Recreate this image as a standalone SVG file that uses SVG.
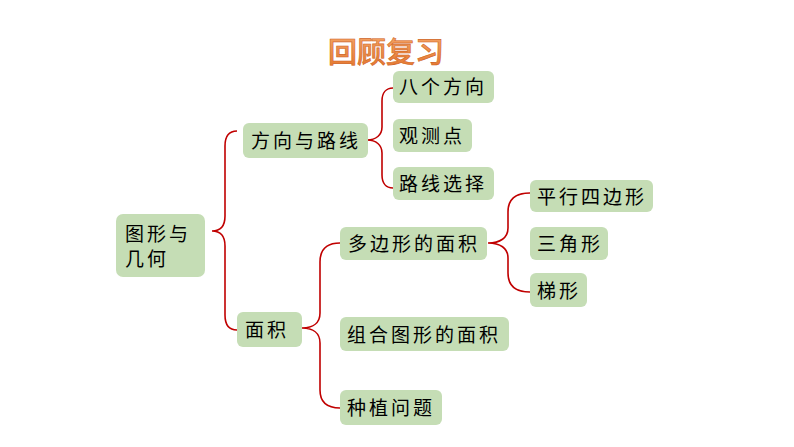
<svg xmlns="http://www.w3.org/2000/svg" width="794" height="447" viewBox="0 0 794 447">
<defs>
<style>
.box{fill:#c5ddb5;}
.t{font-family:"Noto Sans CJK SC","Noto Sans CJK JP",sans-serif;font-size:19px;fill:#000;letter-spacing:3px;}
.br{fill:none;stroke:#c00000;stroke-width:1.6;}
.title{font-family:"Noto Sans CJK SC","Noto Sans CJK JP",sans-serif;font-size:29px;font-weight:500;}
</style>
<linearGradient id="tg" x1="0" y1="0" x2="0" y2="1">
<stop offset="0" stop-color="#f7ac70"/>
<stop offset="1" stop-color="#e2732a"/>
</linearGradient>
</defs>
<rect width="794" height="447" fill="#fff"/>
<g id="title">
<text class="title" x="386" y="63" text-anchor="middle" fill="url(#tg)" stroke="#d0631e" stroke-width="0.6">回顾复习</text>
</g>
<g id="connectors">
<path class="br" d="M237,131 C229,131 225,136 225,146 L225,216 C225,226 220,231 212,231 C220,231 225,236 225,246 L225,315 C225,325 229,330 237,330"/>
<path class="br" d="M393,88 C386,88 382,93 382,101 L382,127 C382,135 376,140 367,140 C376,140 382,145 382,153 L382,175 C382,183 386,188 393,188"/>
<path class="br" d="M530,193 C514,193 508,200 508,212 L508,228 C508,238 500,243 488,243 C500,243 508,248 508,258 L508,273 C508,285 514,292 530,292"/>
<path class="br" d="M340,243 C326,243 320,250 320,262 L320,313 C320,323 313,328 302,328 C313,328 320,333 320,343 L320,390 C320,402 326,408 340,408"/>
</g>
<g id="n-root"><rect class="box" x="116" y="214" width="89" height="63" rx="7"/><text class="t" x="125" y="241">图形与</text><text class="t" x="125" y="266">几何</text></g>
<g id="n-fxlx"><rect class="box" x="243" y="123" width="125" height="35" rx="6"/><text class="t" x="251" y="148">方向与路线</text></g>
<g id="n-bgfx"><rect class="box" x="393" y="71" width="101" height="32" rx="6"/><text class="t" x="399" y="94">八个方向</text></g>
<g id="n-gcd"><rect class="box" x="393" y="119" width="79" height="33" rx="6"/><text class="t" x="399" y="143">观测点</text></g>
<g id="n-lxxz"><rect class="box" x="393" y="167" width="101" height="33" rx="6"/><text class="t" x="399" y="191">路线选择</text></g>
<g id="n-pxsbx"><rect class="box" x="530" y="180" width="123" height="32" rx="6"/><text class="t" x="537" y="204">平行四边形</text></g>
<g id="n-sjx"><rect class="box" x="530" y="227" width="78" height="33" rx="6"/><text class="t" x="537" y="251">三角形</text></g>
<g id="n-tx"><rect class="box" x="530" y="273" width="57" height="34" rx="6"/><text class="t" x="537" y="298">梯形</text></g>
<g id="n-dbx"><rect class="box" x="340" y="227" width="147" height="33" rx="6"/><text class="t" x="348" y="251">多边形的面积</text></g>
<g id="n-mj"><rect class="box" x="237" y="312" width="65" height="35" rx="6"/><text class="t" x="245" y="337">面积</text></g>
<g id="n-zh"><rect class="box" x="340" y="317" width="169" height="34" rx="6"/><text class="t" x="347" y="342">组合图形的面积</text></g>
<g id="n-zz"><rect class="box" x="340" y="390" width="102" height="35" rx="6"/><text class="t" x="347" y="415">种植问题</text></g>
</svg>
